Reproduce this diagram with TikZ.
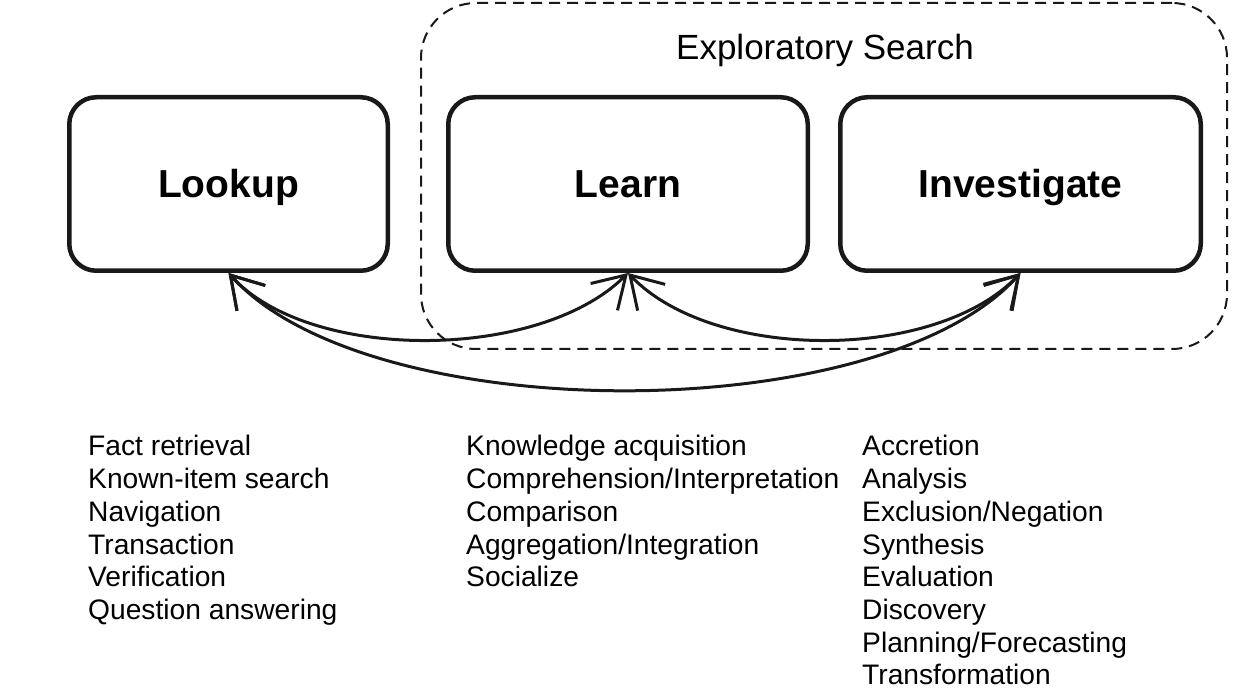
\documentclass[tikz,border=0pt]{standalone}
\usepackage{fontspec}
\setmainfont{Liberation Sans}
\usetikzlibrary{arrows.meta}
\begin{document}
\begin{tikzpicture}[x=1pt,y=1pt,
  stage/.style={draw=black!90, line width=4.5pt, rounded corners=27pt, fill=white,
    minimum height=173.5pt, font=\fontsize{39}{45}\selectfont\bfseries,
    text height=27.5pt, text depth=0pt, inner sep=0pt},
  explorebox/.style={draw=black!90, dash pattern=on 11pt off 7pt, line width=2pt,
    rounded corners=55pt, minimum width=806pt, minimum height=346pt, inner sep=0pt},
  item/.style={anchor=base west, inner sep=0pt, font=\fontsize{28.2}{33}\selectfont},
  link/.style={line width=3pt, draw=black!90,
    {Straight Barb[length=31pt,width=38pt]}-{Straight Barb[length=31pt,width=38pt]}}
]
\useasboundingbox (0,0) rectangle (1257,698);
% exploratory search frame
\node[explorebox] (explore) at (824,522) {};
\node[anchor=base, font=\fontsize{35}{42}\selectfont] (explabel) at (825,638) {Exploratory Search};
% stages
\node[stage, minimum width=318.5pt] (lookup) at (228.5,514) {Lookup};
\node[stage, minimum width=359.5pt] (learn) at (628,514) {Learn};
\node[stage, minimum width=360.5pt] (investigate) at (1020.5,514) {Investigate};
% connectors
\draw[link] (lookup.south) .. controls +(80,-89) and +(-89,-89) .. (learn.south);
\draw[link] (learn.south) .. controls +(85,-89) and +(-85,-89) .. (investigate.south);
\draw[link] (lookup.south) .. controls +(140,-156) and +(-140,-156) .. (investigate.south);
% lists
\foreach \t [count=\i] in {Fact retrieval,Known-item search,Navigation,Transaction,Verification,Question answering}
  \node[item] (lk\i) at (88,{242-(\i-1)*32.7}) {\t};
\foreach \t [count=\i] in {Knowledge acquisition,Comprehension/Interpretation,Comparison,Aggregation/Integration,Socialize}
  \node[item] (le\i) at (466,{242-(\i-1)*32.7}) {\t};
\foreach \t [count=\i] in {Accretion,Analysis,Exclusion/Negation,Synthesis,Evaluation,Discovery,Planning/Forecasting,Transformation}
  \node[item] (in\i) at (862,{242-(\i-1)*32.7}) {\t};
\end{tikzpicture}
\end{document}
